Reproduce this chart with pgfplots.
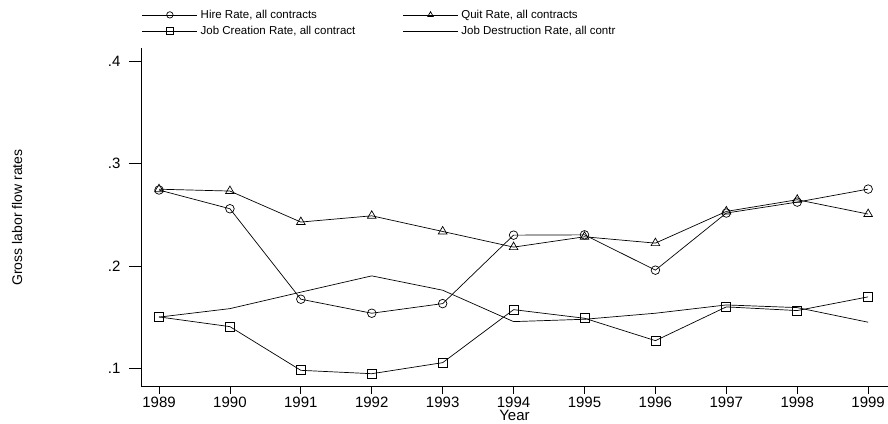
\documentclass[border=0pt]{standalone}
\usepackage{fontspec}
\setmainfont{Liberation Sans}
\usepackage{pgfplots}
\pgfplotsset{compat=1.18}
\begin{document}
\begin{tikzpicture}
\useasboundingbox (-141pt,-36.3pt) rectangle (747pt,386.7pt);
\begin{axis}[
  at={(0pt,0pt)}, anchor=south west,
  scale only axis, width=747pt, height=338.4pt,
  xmin=1988.746, xmax=1999.28, ymin=0.082, ymax=0.4127,
  axis x line=bottom, axis y line=left,
  axis line style={-, line width=0.8pt, black},
  tick align=outside,
  major tick length=12pt,
  xtick style={/pgfplots/major tick length=7pt},
  tick style={black, line width=0.8pt},
  xtick={1989,1990,1991,1992,1993,1994,1995,1996,1997,1998,1999},
  xticklabels={1989,1990,1991,1992,1993,1994,1995,1996,1997,1998,1999},
  ytick={0.1,0.2,0.3,0.4},
  yticklabels={.1,.2,.3,.4},
  ticklabel style={font=\fontsize{15}{18}\selectfont},
  xticklabel style={yshift=5.5pt},
  yticklabel style={xshift=-5pt},
  /pgf/number format/assume math mode=true,
  xlabel={Year},
  ylabel={Gross labor flow rates},
  every axis x label/.style={at={(axis description cs:0.5,0)}, anchor=base, yshift=-34.2pt, font=\fontsize{15}{18}\selectfont},
  every axis y label/.style={at={(axis description cs:0,0.5)}, rotate=90, anchor=center, yshift=124pt, font=\fontsize{14}{17}\selectfont},
  legend columns=2,
  legend cell align=left,
  legend style={at={(axis description cs:0,1)}, anchor=north west, xshift=1pt, yshift=41.4pt,
    draw=none, fill=none, inner sep=0pt, outer sep=0pt,
    font=\fontsize{11.5}{13}\selectfont,
    nodes={inner sep=0pt, outer sep=0pt, minimum height=16pt},
    /tikz/every odd column/.append style={column sep=3pt},
    /tikz/every even column/.append style={column sep=47.3pt}},
  legend image code/.code={\draw[mark repeat=2,mark phase=2,#1,mark size=3.2pt] plot coordinates {(0pt,0pt) (27.5pt,0pt) (55pt,0pt)};},
]
\addplot[black, line width=0.7pt, mark=o, mark size=4.3pt, mark options={solid}] coordinates {
(1989,0.2742) (1990,0.2559) (1991,0.1675) (1992,0.1538) (1993,0.1632) (1994,0.2301)
(1995,0.2304) (1996,0.1959) (1997,0.2517) (1998,0.2624) (1999,0.2751)};
\addlegendentry{Hire Rate, all contracts}
\addplot[black, line width=0.7pt, mark=triangle, mark size=5pt, mark options={solid}] coordinates {
(1989,0.2750) (1990,0.2732) (1991,0.2429) (1992,0.2490) (1993,0.2337) (1994,0.2184)
(1995,0.2285) (1996,0.2223) (1997,0.2533) (1998,0.2647) (1999,0.2507)};
\addlegendentry{Quit Rate, all contracts}
\addplot[black, line width=0.7pt, mark=square, mark size=4.5pt, mark options={solid}] coordinates {
(1989,0.1502) (1990,0.1407) (1991,0.0980) (1992,0.0947) (1993,0.1055) (1994,0.1573)
(1995,0.1489) (1996,0.1270) (1997,0.1600) (1998,0.1564) (1999,0.1698)};
\addlegendentry{Job Creation Rate, all contract}
\addplot[black, line width=0.7pt, no marks] coordinates {
(1989,0.1500) (1990,0.1583) (1991,0.1744) (1992,0.1903) (1993,0.1763) (1994,0.1456)
(1995,0.1479) (1996,0.1538) (1997,0.1619) (1998,0.1593) (1999,0.1450)};
\addlegendentry{Job Destruction Rate, all contr}
\end{axis}
\end{tikzpicture}
\end{document}
